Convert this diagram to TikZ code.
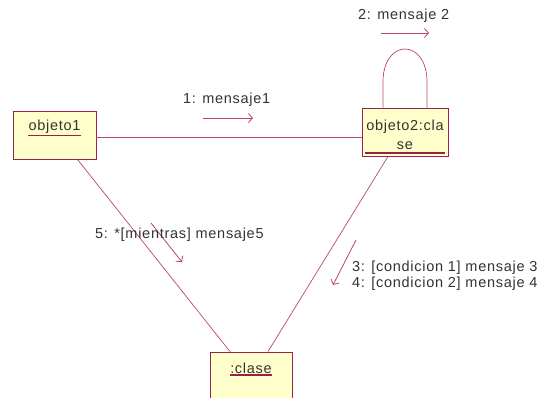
\documentclass[tikz,border=0pt]{standalone}
\usepackage{fontspec}
\setmainfont[LetterSpace=5]{Liberation Sans}
\usetikzlibrary{arrows.meta}
\definecolor{boxfill}{HTML}{FFFFCC}
\definecolor{boxdraw}{HTML}{9C1F4A}
\definecolor{linkcol}{HTML}{B8466E}
\definecolor{txt}{HTML}{333333}
\tikzset{
  objbox/.style={draw=boxdraw, fill=boxfill, line width=0.9pt, inner sep=0pt},
  lbl/.style={text=txt, inner sep=0pt, font=\fontsize{14.5}{17}\selectfont},
  link/.style={draw=linkcol, line width=0.7pt},
  msg/.style={draw=linkcol, line width=0.8pt, -{Straight Barb[length=4pt,width=9pt]}},
  uline/.style={draw=boxdraw, line width=1.3pt}
}
\begin{document}
\begin{tikzpicture}[x=1pt,y=-1pt]
\useasboundingbox (0,0) rectangle (543,398);
% boxes
\node[objbox, minimum width=83pt, minimum height=48pt] (o1) at (54.5,135) {};
\node[objbox, minimum width=86pt, minimum height=48pt] (o2) at (405,132) {};
\node[objbox, minimum width=82pt, minimum height=60pt] (c) at (251,382) {};
% box texts
\node[lbl] (t1) at (54.5,127) {objeto1};
\draw[uline] ([yshift=-1.5pt]t1.south west) -- ([yshift=-1.5pt]t1.south east);
\node[lbl] (t2a) at (405,127) {objeto2:cla};
\node[lbl] (t2b) at (405,146) {se};
\draw[uline] ([xshift=3pt]o2.west |- 0,153) coordinate (u2a) -- ([xshift=-3pt]o2.east |- u2a);
\node[lbl] (t3) at (251,368) {:clase};
\draw[uline] ([yshift=-1.5pt]t3.south west) -- ([yshift=-1.5pt]t3.south east);
% connectors
\draw[link] (o1.east |- 0,137) -- (o2.west |- 0,137);
\draw[link] ([xshift=23pt]o1.south) -- ([xshift=-21pt]c.north);
\draw[link] ([xshift=-17pt]o2.south) -- ([xshift=17pt]c.north);
\coordinate (la) at ([xshift=-22pt]o2.north);
\coordinate (lb) at ([xshift=22pt]o2.north);
\coordinate (la2) at (383,82);
\coordinate (lb2) at (427,82);
\coordinate (lac) at (383,38);
\coordinate (lbc) at (427,38);
\draw[link] (la) -- (la2) .. controls (lac) and (lbc) .. (lb2) -- (lb);
% message arrows
\coordinate (m1a) at (203,118); \coordinate (m1b) at (253,118);
\draw[msg] (m1a) -- (m1b);
\node[lbl, anchor=west] (l1) at (183,100) {1: mensaje1};
\coordinate (m2a) at (381,33); \coordinate (m2b) at (429,33);
\draw[msg] (m2a) -- (m2b);
\node[lbl, anchor=west] (l2) at (358,16) {2: mensaje 2};
\coordinate (m5a) at (151,223); \coordinate (m5b) at (182,262);
\draw[msg] (m5a) -- (m5b);
\node[lbl, anchor=west] (l5) at (95,235) {5: *[mientras] mensaje5};
\coordinate (m3a) at (356,240); \coordinate (m3b) at (333,285);
\draw[msg] (m3a) -- (m3b);
\node[lbl, anchor=west] (l3) at (352,268) {3: [condicion 1] mensaje 3};
\node[lbl, anchor=west] (l4) at (352,284) {4: [condicion 2] mensaje 4};
\end{tikzpicture}
\end{document}
